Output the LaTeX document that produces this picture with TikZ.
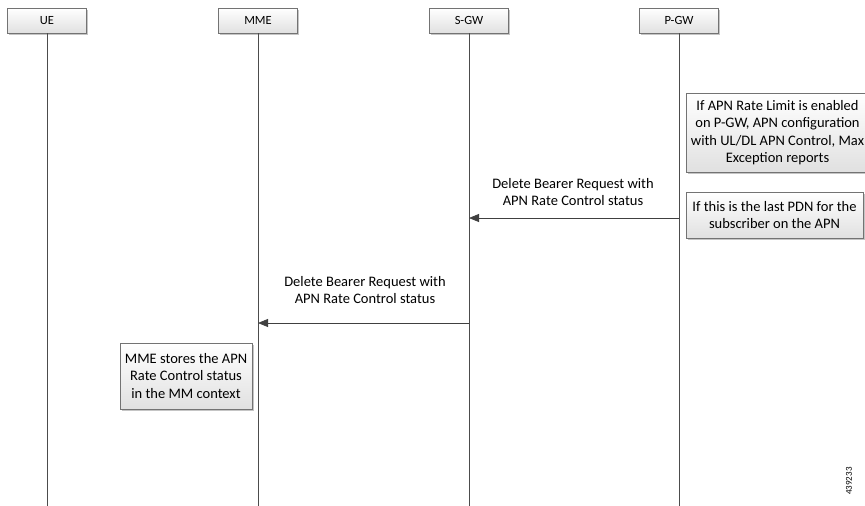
\documentclass[tikz,border=0pt]{standalone}
\usepackage{fontspec}
\setmainfont{Carlito}
\usetikzlibrary{shadows}
\usetikzlibrary{arrows.meta}

\begin{document}
\begin{tikzpicture}[x=1pt,y=-1pt,font=\fontsize{14.5}{17.5}\selectfont,
	ent/.style={draw=black!55,top color=white,bottom color=black!12,inner sep=0pt,
		minimum width=79pt,minimum height=25pt,font=\fontsize{12.5}{15}\selectfont,
		drop shadow={shadow xshift=1.5pt,shadow yshift=-1.5pt,fill=black!45}},
	note/.style={ent,align=center,font=\fontsize{14.5}{17.5}\selectfont},
	life/.style={draw=black!70,line width=0.8pt},
	msg/.style={draw=black!75,line width=0.8pt,-{Triangle[length=10pt,width=8pt]}}]
\useasboundingbox (0,0) rectangle (865,506);
% entities and lifelines
\node[ent] (UE) at (47,20.5) {UE};
\node[ent] (MME) at (258,20.5) {MME};
\node[ent] (SGW) at (469,20.5) {S-GW};
\node[ent] (PGW) at (679,20.5) {P-GW};
\coordinate (UEend) at (47,506);
\coordinate (MMEend) at (258,506);
\coordinate (SGWend) at (469,506);
\coordinate (PGWend) at (679,506);
\draw[life] (UE) -- (UEend);
\draw[life] (MME) -- (MMEend);
\draw[life] (SGW) -- (SGWend);
\draw[life] (PGW) -- (PGWend);
% notes
\node[note,minimum width=183pt,minimum height=79pt] (limit) at (777.5,132.5)
	{If APN Rate Limit is enabled\\on P-GW, APN configuration\\with UL/DL APN Control, Max\\Exception reports};
\node[note,minimum width=177pt,minimum height=46pt] (last) at (774.5,215)
	{If this is the last PDN for the\\subscriber on the APN};
\node[note,minimum width=132pt,minimum height=66pt] (store) at (186,376)
	{MME stores the APN\\Rate Control status\\in the MM context};
% messages
\coordinate (p1) at (679,218);
\coordinate (s1) at (469,218);
\coordinate (s2) at (469,323);
\coordinate (m2) at (258,323);
\draw[msg] (p1) -- (s1);
\draw[msg] (s2) -- (m2);
\node[align=center] (del1) at (573,192) {Delete Bearer Request with\\APN Rate Control status};
\node[align=center] (del2) at (365,290) {Delete Bearer Request with\\APN Rate Control status};
\node[rotate=90,font=\fontsize{9}{10}\selectfont] (num) at (849,481) {439233};
\end{tikzpicture}
\end{document}
